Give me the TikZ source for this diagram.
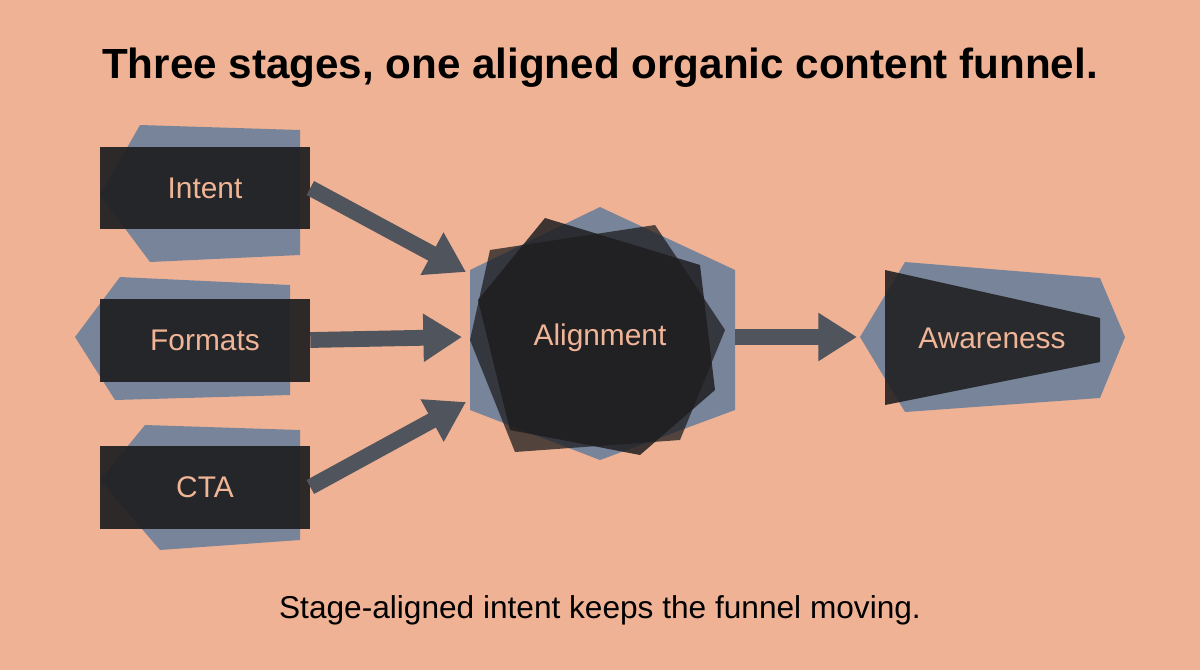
\documentclass[tikz,border=0pt]{standalone}
\usepackage{fontspec}
\setmainfont{Liberation Sans}
\usepackage{xcolor}
\usetikzlibrary{positioning,arrows.meta}
\definecolor{bgsalmon}{RGB}{240,178,148}
\definecolor{boxdark}{RGB}{30,30,32}
\definecolor{slate}{RGB}{100,125,155}
\definecolor{arrowgray}{RGB}{80,84,92}
\definecolor{labeltxt}{RGB}{240,180,150}

\begin{document}
\begin{tikzpicture}[x={(0.02cm,0)}, y={(0,-0.02cm)},
  stage/.style={draw=none, fill=boxdark, fill opacity=0.92, text opacity=1,
    text=labeltxt, font=\fontsize{17}{20}\selectfont, minimum width=4.2cm, minimum height=1.66cm, inner sep=0pt},
  shadow/.style={fill=slate, fill opacity=0.85},
  flow/.style={draw=arrowgray, line width=9pt, -{Triangle[length=22pt,width=26pt]}}]
\fill[bgsalmon] (0,0) rectangle (1200,670);

\node[font=\bfseries\fontsize{24}{28}\selectfont] (title) at (600,68) {Three stages, one aligned organic content funnel.};

% slate shapes behind the stages
\fill[shadow] (140,125) -- (300,130) -- (300,255) -- (150,262) -- (100,195) -- cycle;
\fill[shadow] (120,277) -- (290,285) -- (290,395) -- (115,400) -- (75,337) -- cycle;
\fill[shadow] (145,425) -- (300,430) -- (300,540) -- (160,550) -- (100,480) -- cycle;
\fill[shadow] (600,207) -- (735,270) -- (735,410) -- (600,460) -- (470,410) -- (470,270) -- cycle;
\fill[shadow] (905,262) -- (1100,278) -- (1125,337) -- (1100,398) -- (905,412) -- (860,337) -- cycle;

% stages
\node[stage] (intent) at (205,188) {Intent};
\node[stage] (formats) at (205,340) {Formats};
\node[stage] (cta) at (205,487) {CTA};

\fill[boxdark, opacity=0.85] (545,218) -- (700,265) -- (715,390) -- (640,455) -- (510,430) -- (478,300) -- cycle;
\fill[boxdark, opacity=0.75] (490,250) -- (655,225) -- (725,330) -- (680,440) -- (515,452) -- (470,340) -- cycle;
\node[text=labeltxt, font=\fontsize{17}{20}\selectfont] (alignment) at (600,338) {Alignment};

\fill[boxdark, opacity=0.88] (885,270) -- (1100,318) -- (1100,362) -- (885,405) -- cycle;
\node[text=labeltxt, font=\fontsize{17}{20}\selectfont] (awareness) at (992,338) {Awareness};

% connectors
\coordinate (intentin) at (466,272);
\coordinate (formatsin) at (462,337);
\coordinate (ctain) at (466,402);
\coordinate (awarenessin) at (857,337);
\coordinate (alignout) at (735,337);
\draw[flow] (intent.east) -- (intentin);
\draw[flow] (formats.east) -- (formatsin);
\draw[flow] (cta.east) -- (ctain);
\draw[flow] (alignout) -- (awarenessin);

\node[font=\fontsize{18}{22}\selectfont] (caption) at (600,610) {Stage-aligned intent keeps the funnel moving.};
\end{tikzpicture}
\end{document}
